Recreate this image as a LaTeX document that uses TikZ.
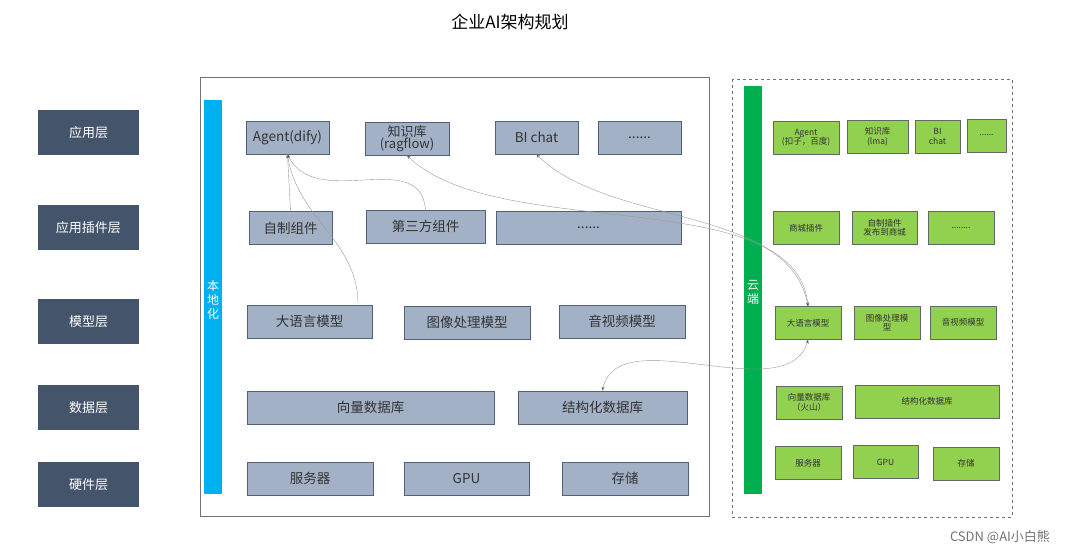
\documentclass[tikz,border=0pt]{standalone}
\usepackage{fontspec}
\setmainfont{Noto Sans CJK SC}
\usetikzlibrary{arrows}

\begin{document}
\begin{tikzpicture}[x=1pt,y=-1pt,>=stealth',semithick]
  \definecolor{layerfill}{HTML}{44546A}
  \definecolor{locfill}{HTML}{A3B1C6}
  \definecolor{locline}{HTML}{52607A}
  \definecolor{cloudfill}{HTML}{92D050}
  \definecolor{barblue}{HTML}{00B0F0}
  \definecolor{bargreen}{HTML}{00B050}
  \tikzstyle{layer}=[fill=layerfill,draw=none,text=white,font=\fontsize{13}{14}\selectfont,
                     minimum width=101pt,minimum height=45pt,inner sep=0pt]
  \tikzstyle{loc}=[fill=locfill,draw=locline,line width=0.8pt,text=black!80,
                   font=\fontsize{13.5}{13}\selectfont,minimum height=33pt,inner sep=0pt,align=center]
  \tikzstyle{cld}=[fill=cloudfill,draw=black!60,line width=0.8pt,text=black!80,
                   font=\fontsize{8.5}{9.5}\selectfont,minimum height=33pt,inner sep=0pt,align=center]
  \tikzstyle{link}=[draw=black!40,thin]

  \useasboundingbox (0,0) rectangle (1080,554);
  \node[font=\fontsize{17}{18}\selectfont] (title) at (510,22) {企业AI架构规划};

  % layers
  \node[layer] (l1) at (88.5,132.5) {应用层};
  \node[layer] (l2) at (88.5,227.5) {应用插件层};
  \node[layer] (l3) at (88.5,321.5) {模型层};
  \node[layer] (l4) at (88.5,407.5) {数据层};
  \node[layer] (l5) at (88.5,484.5) {硬件层};

  % local
  \draw[black!55,line width=0.8pt] (200,77) rectangle (709,516);
  \fill[barblue] (204,100) rectangle (222,494);
  \node[text=white,align=center,font=\fontsize{12}{14}\selectfont] (lbar) at (213,300) {本\\地\\化};

  \node[loc,minimum width=83pt]  (agent) at (287.5,137.5) {Agent(dify)};
  \node[loc,minimum width=84pt,font=\fontsize{13}{12}\selectfont] (kb) at (407,138.5) {知识库\\(ragflow)};
  \node[loc,minimum width=83pt]  (bi)    at (536.5,137.5) {BI chat};
  \node[loc,minimum width=83pt]  (more1) at (639.5,137.5) {......};
  \node[loc,minimum width=83pt]  (own)   at (290.5,228) {自制组件};
  \node[loc,minimum width=119pt] (third) at (425.5,226.5) {第三方组件};
  \node[loc,minimum width=185pt] (more2) at (588.5,227.5) {......};
  \node[loc,minimum width=125pt] (llm)   at (309.5,321.5) {大语言模型};
  \node[loc,minimum width=126pt] (img)   at (467,322.5) {图像处理模型};
  \node[loc,minimum width=126pt] (av)    at (622,321.5) {音视频模型};
  \node[loc,minimum width=247pt] (vec)   at (370.5,407.5) {向量数据库};
  \node[loc,minimum width=169pt] (sql)   at (602.5,407.5) {结构化数据库};
  \node[loc,minimum width=126pt] (srv)   at (310,478.5) {服务器};
  \node[loc,minimum width=125pt] (gpu)   at (466.5,478.5) {GPU};
  \node[loc,minimum width=126pt] (sto)   at (625,478.5) {存储};

  % cloud
  \draw[black!55,dashed,line width=0.8pt] (732,79) rectangle (1012,517);
  \fill[bargreen] (744,86) rectangle (762,494);
  \node[text=white,align=center,font=\fontsize{12}{14}\selectfont] (cbar) at (753,292) {云\\端};

  \node[cld,minimum width=66pt] (cagent) at (806,137.5) {Agent\\(扣子，百度)};
  \node[cld,minimum width=61pt] (ckb)    at (877.5,137) {知识库\\(lma)};
  \node[cld,minimum width=45pt] (cbi)    at (937.5,136.5) {BI\\chat};
  \node[cld,minimum width=39pt] (cmore1) at (986.5,135.5) {......};
  \node[cld,minimum width=66pt] (cshop)  at (806,228) {商城插件};
  \node[cld,minimum width=65pt] (cown)   at (884.5,228) {自制插件\\发布到商城};
  \node[cld,minimum width=66pt] (cmore2) at (961,228) {........};
  \node[cld,minimum width=66pt] (cllm)   at (808,323) {大语言模型};
  \node[cld,minimum width=66pt] (cimg)   at (887,322.5) {图像处理模\\型};
  \node[cld,minimum width=66pt] (cav)    at (963,322.5) {音视频模型};
  \node[cld,minimum width=66pt] (cvec)   at (809,402.5) {向量数据库\\（火山）};
  \node[cld,minimum width=144pt] (csql)  at (927,401.5) {结构化数据库};
  \node[cld,minimum width=66pt] (csrv)   at (808,463) {服务器};
  \node[cld,minimum width=65pt] (cgpu)   at (885.5,462) {GPU};
  \node[cld,minimum width=66pt] (csto)   at (966,463.5) {存储};

  % links
  \path[link] (own.north) edge[->] (agent.south)
        (llm.north -| 358,0) edge[->,out=90,in=-82] (agent.south)
        (third.north) edge[->,out=95,in=-65,looseness=1.1] (agent.south)
        (kb.south) edge[<->,out=-45,in=95,looseness=0.75] (cllm.north)
        (bi.south) edge[<->,out=-45,in=100,looseness=0.85] (cllm.north)
        (sql.north) edge[<->,out=80,in=-105,looseness=0.9] (cllm.south);

  \node[text=black!55,font=\fontsize{13}{14}\selectfont] (mark) at (1000,537) {CSDN @AI小白熊};
\end{tikzpicture}
\end{document}
